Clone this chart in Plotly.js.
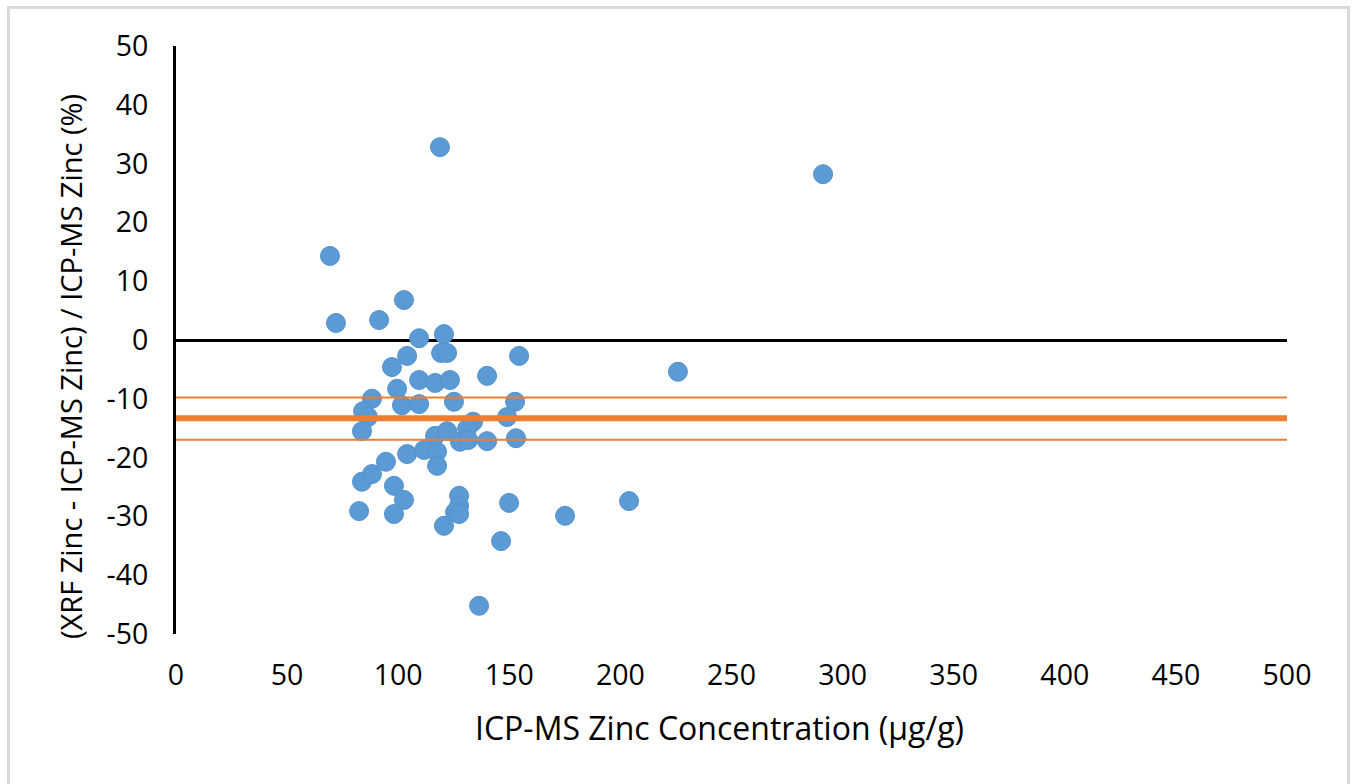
<!DOCTYPE html>
<html>
<head>
<meta charset="utf-8">
<script src="https://cdn.plot.ly/plotly-3.0.1.min.js"></script>
<style>
  html, body { margin: 0; padding: 0; background: #ffffff; overflow: hidden; }
  #frame { position: absolute; left: 7px; top: 6px; width: 1343px; height: 900px;
           border: 3px solid #d9d9d9; box-sizing: border-box; }
  #chart { position: absolute; left: 0; top: 0; width: 1352px; height: 784px; }
</style>
</head>
<body>
<div id="frame"></div>
<div id="chart"></div>
<script>
// ICP-MS zinc concentration (µg/g)
const icpmsZinc = [
  69.3, 72.0, 91.4, 102.6, 118.8, 291.2, 225.9, 203.9, 175.1, 136.4,
  146.3, 149.9, 154.4, 140.0, 152.6, 153.0, 149.0, 109.4, 120.6, 119.3,
  122.0, 104.0, 97.2, 109.4, 116.6, 123.3, 99.5, 101.7, 109.4, 125.1,
  88.2, 84.2, 86.4, 83.7, 83.7, 88.2, 94.5, 98.1, 102.6, 82.4,
  98.1, 104.0, 111.7, 117.5, 117.5, 116.6, 122.0, 127.8, 133.7, 131.0,
  140.0, 127.4, 127.4, 125.6, 127.4, 120.6, 131.5
];
// (XRF Zinc - ICP-MS Zinc) / ICP-MS Zinc (%)
const pctDifference = [
  14.3, 2.9, 3.4, 6.8, 32.8, 28.2, -5.4, -27.4, -29.9, -45.2,
  -34.2, -27.7, -2.7, -6.1, -10.5, -16.7, -13.1, 0.3, 1.0, -2.2,
  -2.2, -2.7, -4.6, -6.8, -7.3, -6.8, -8.3, -11.1, -10.9, -10.5,
  -10.0, -12.1, -13.1, -15.5, -24.1, -22.8, -20.7, -24.8, -27.2, -29.1,
  -29.6, -19.4, -18.7, -19.0, -21.4, -16.3, -15.5, -17.3, -13.9, -15.1,
  -17.2, -26.5, -28.2, -29.3, -29.6, -31.6, -17.0
];
// Reference lines (mean bias and its limits), drawn across the x range
const lineX = [0, 500];
const meanBias = [-13.3, -13.3];
const upperLimit = [-9.8, -9.8];
const lowerLimit = [-16.95, -16.95];

const xTicks = [0, 50, 100, 150, 200, 250, 300, 350, 400, 450, 500];
const yTicks = [-50, -40, -30, -20, -10, 0, 10, 20, 30, 40, 50];

const xTitle = 'ICP-MS Zinc Concentration (µg/g)';
const yTitle = '(XRF Zinc - ICP-MS Zinc) / ICP-MS Zinc (%)';

const FONT = 'Open Sans, Noto Sans, sans-serif';
const ORANGE = '#ED7D31';

const traces = [
  {
    type: 'scatter', mode: 'markers', x: icpmsZinc, y: pctDifference,
    marker: { color: '#5B9BD5', size: 19, line: { color: '#5590cc', width: 1 } },
    hoverinfo: 'skip', showlegend: false
  },
  {
    type: 'scatter', mode: 'lines', x: lineX, y: upperLimit,
    line: { color: ORANGE, width: 2 }, hoverinfo: 'skip', showlegend: false
  },
  {
    type: 'scatter', mode: 'lines', x: lineX, y: lowerLimit,
    line: { color: ORANGE, width: 2 }, hoverinfo: 'skip', showlegend: false
  },
  {
    type: 'scatter', mode: 'lines', x: lineX, y: meanBias,
    line: { color: ORANGE, width: 6 }, hoverinfo: 'skip', showlegend: false
  }
];

const layout = {
  width: 1352, height: 784,
  margin: { l: 176, r: 65, t: 46, b: 150 },
  paper_bgcolor: 'rgba(0,0,0,0)',
  plot_bgcolor: 'rgba(0,0,0,0)',
  font: { family: FONT, color: '#000000', size: 28 },
  showlegend: false,
  hovermode: false,
  xaxis: {
    range: [0, 500], tickvals: xTicks, ticktext: xTicks.map(String),
    showgrid: false, zeroline: false, showline: false,
    ticks: 'outside', ticklen: 16, tickcolor: 'rgba(0,0,0,0)',
    tickfont: { family: FONT, size: 28.5, color: '#000000' },
    fixedrange: true
  },
  yaxis: {
    range: [-50, 50], tickvals: yTicks, ticktext: yTicks.map(String),
    showgrid: false, zeroline: true, zerolinecolor: '#000000', zerolinewidth: 3,
    showline: true, linecolor: '#000000', linewidth: 3,
    ticks: 'outside', ticklen: 19, tickcolor: 'rgba(0,0,0,0)',
    tickfont: { family: FONT, size: 28.5, color: '#000000' },
    fixedrange: true
  },
  annotations: [
    {
      text: xTitle, xref: 'paper', yref: 'paper',
      x: (719 - 176) / 1111, y: (634 - 727) / 588,
      xanchor: 'center', yanchor: 'middle', showarrow: false,
      font: { family: FONT, size: 32, color: '#000000' }
    },
    {
      text: yTitle, xref: 'paper', yref: 'paper', textangle: -90,
      x: (70 - 176) / 1111, y: (634 - 367) / 588,
      xanchor: 'center', yanchor: 'middle', showarrow: false,
      font: { family: FONT, size: 29, color: '#000000' }
    }
  ]
};

Plotly.newPlot('chart', traces, layout, { displayModeBar: false, staticPlot: true });
</script>
</body>
</html>
